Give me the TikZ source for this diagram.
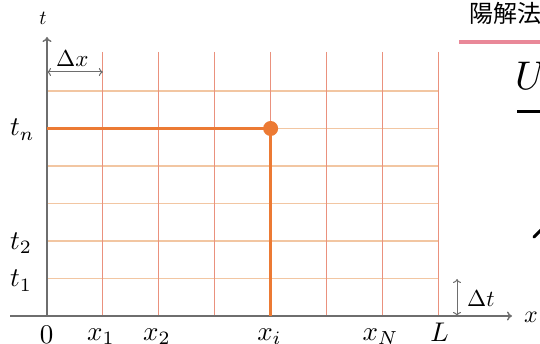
\documentclass[tikz,border=0pt]{standalone}
\usepackage{fontspec}
\newfontfamily\cjk{Noto Sans CJK JP}
\usetikzlibrary{arrows.meta}
\definecolor{axisgray}{RGB}{110,110,110}
\definecolor{gridv}{RGB}{234,145,125}
\definecolor{gridh}{RGB}{242,198,162}
\definecolor{hl}{RGB}{236,122,52}
\definecolor{pinkline}{RGB}{233,136,152}
\newcommand\biglab[1]{\scalebox{2.7}{$#1$}}
\newcommand\midlab[1]{\scalebox{2.3}{$#1$}}
\newcommand\smlab[1]{\scalebox{2.0}{$#1$}}
\tikzset{
  axisline/.style={draw=axisgray, line width=1.4pt, -{To[length=5pt,width=9pt]}},
  vgrid/.style={draw=gridv, line width=1pt},
  hgrid/.style={draw=gridh, line width=1.2pt},
  hlline/.style={draw=hl, line width=3pt},
  dimarrow/.style={draw=axisgray, line width=1pt, {To[length=4pt,width=8pt]}-{To[length=4pt,width=8pt]}},
  lab/.style={inner sep=0pt},
}
\begin{document}
\begin{tikzpicture}[x=1pt,y=-1pt]
\useasboundingbox (0,0) rectangle (540,344);
\clip (0,0) rectangle (540,344);
\fill[white] (0,0) rectangle (540,344);

% grid coordinates
\foreach \k in {0,...,7} {
  \coordinate (vt\k) at ({47+55.9*\k},52);
  \coordinate (vb\k) at ({47+55.9*\k},316);
}
\foreach \k in {1,...,6} {
  \coordinate (hl\k) at (47,{316-37.5*\k});
  \coordinate (hr\k) at (438.3,{316-37.5*\k});
}
% grid
\foreach \k in {1,...,6} \draw[hgrid] (hl\k) -- (hr\k);
\foreach \k in {1,...,7} \draw[vgrid] (vt\k) -- (vb\k);

% axes
\coordinate (O) at (47,316);
\coordinate (tend) at (47,37);
\coordinate (xstart) at (10,316);
\coordinate (xend) at (512,316);
\draw[axisline] (O) -- (tend);
\draw[axisline] (xstart) -- (xend);

% highlighted point
\coordinate (P) at ({47+55.9*4},{316-37.5*5});
\draw[hlline] (hl5) -- (P) -- (vb4);
\node[circle, fill=hl, minimum size=15pt, inner sep=0pt] (pt) at (P) {};

% dimension arrows
\coordinate (dxa) at (47,72);
\coordinate (dxb) at (102.9,72);
\draw[dimarrow] (dxa) -- (dxb);
\node[lab, anchor=base west] (dxlab) at (56,67) {\midlab{\Delta x}};
\coordinate (dta) at (457,279);
\coordinate (dtb) at (457,316);
\draw[dimarrow] (dta) -- (dtb);
\node[lab, anchor=base west] (dtlab) at (467,306) {\midlab{\Delta t}};

% axis labels
\node[lab, anchor=base] (tlab) at (43,25) {\smlab{t}};
\node[lab, anchor=base west] (xlab) at (524,322) {\scalebox{2.4}{$x$}};

% t labels
\node[lab, anchor=base west] (tn) at (10,136) {\biglab{t_n}};
\node[lab, anchor=base west] (t2) at (10,249.5) {\biglab{t_2}};
\node[lab, anchor=base west] (t1) at (10,287) {\biglab{t_1}};

% x labels
\node[lab, anchor=base] (l0) at (46.5,343.5) {\biglab{0}};
\node[lab, anchor=base] (x1) at (101,340) {\biglab{x_1}};
\node[lab, anchor=base] (x2) at (157,340) {\biglab{x_2}};
\node[lab, anchor=base] (xi) at (269.5,340) {\biglab{x_i}};
\node[lab, anchor=base] (xN) at (380.5,340) {\biglab{x_N}};
\node[lab, anchor=base] (lL) at (439.5,341.5) {\biglab{L}};

% cut-off content on the right
\node[anchor=base west, inner sep=0pt, font=\fontsize{24}{28}\selectfont\cjk] (title) at (469,23) {陽解法};
\coordinate (pla) at (459,42.5);
\coordinate (plb) at (540,42.5);
\draw[draw=pinkline, line width=4pt] (pla) -- (plb);
\node[lab, anchor=base west] (U) at (515,90) {\scalebox{4.0}{$U$}};
\coordinate (fba) at (517,111.5);
\coordinate (fbb) at (540,111.5);
\draw[line width=2.5pt] (fba) -- (fbb);
\coordinate (sa) at (534,237);
\coordinate (sb) at (541,230);
\draw[line width=3pt, line cap=round] (sa) -- (sb);
\end{tikzpicture}
\end{document}
